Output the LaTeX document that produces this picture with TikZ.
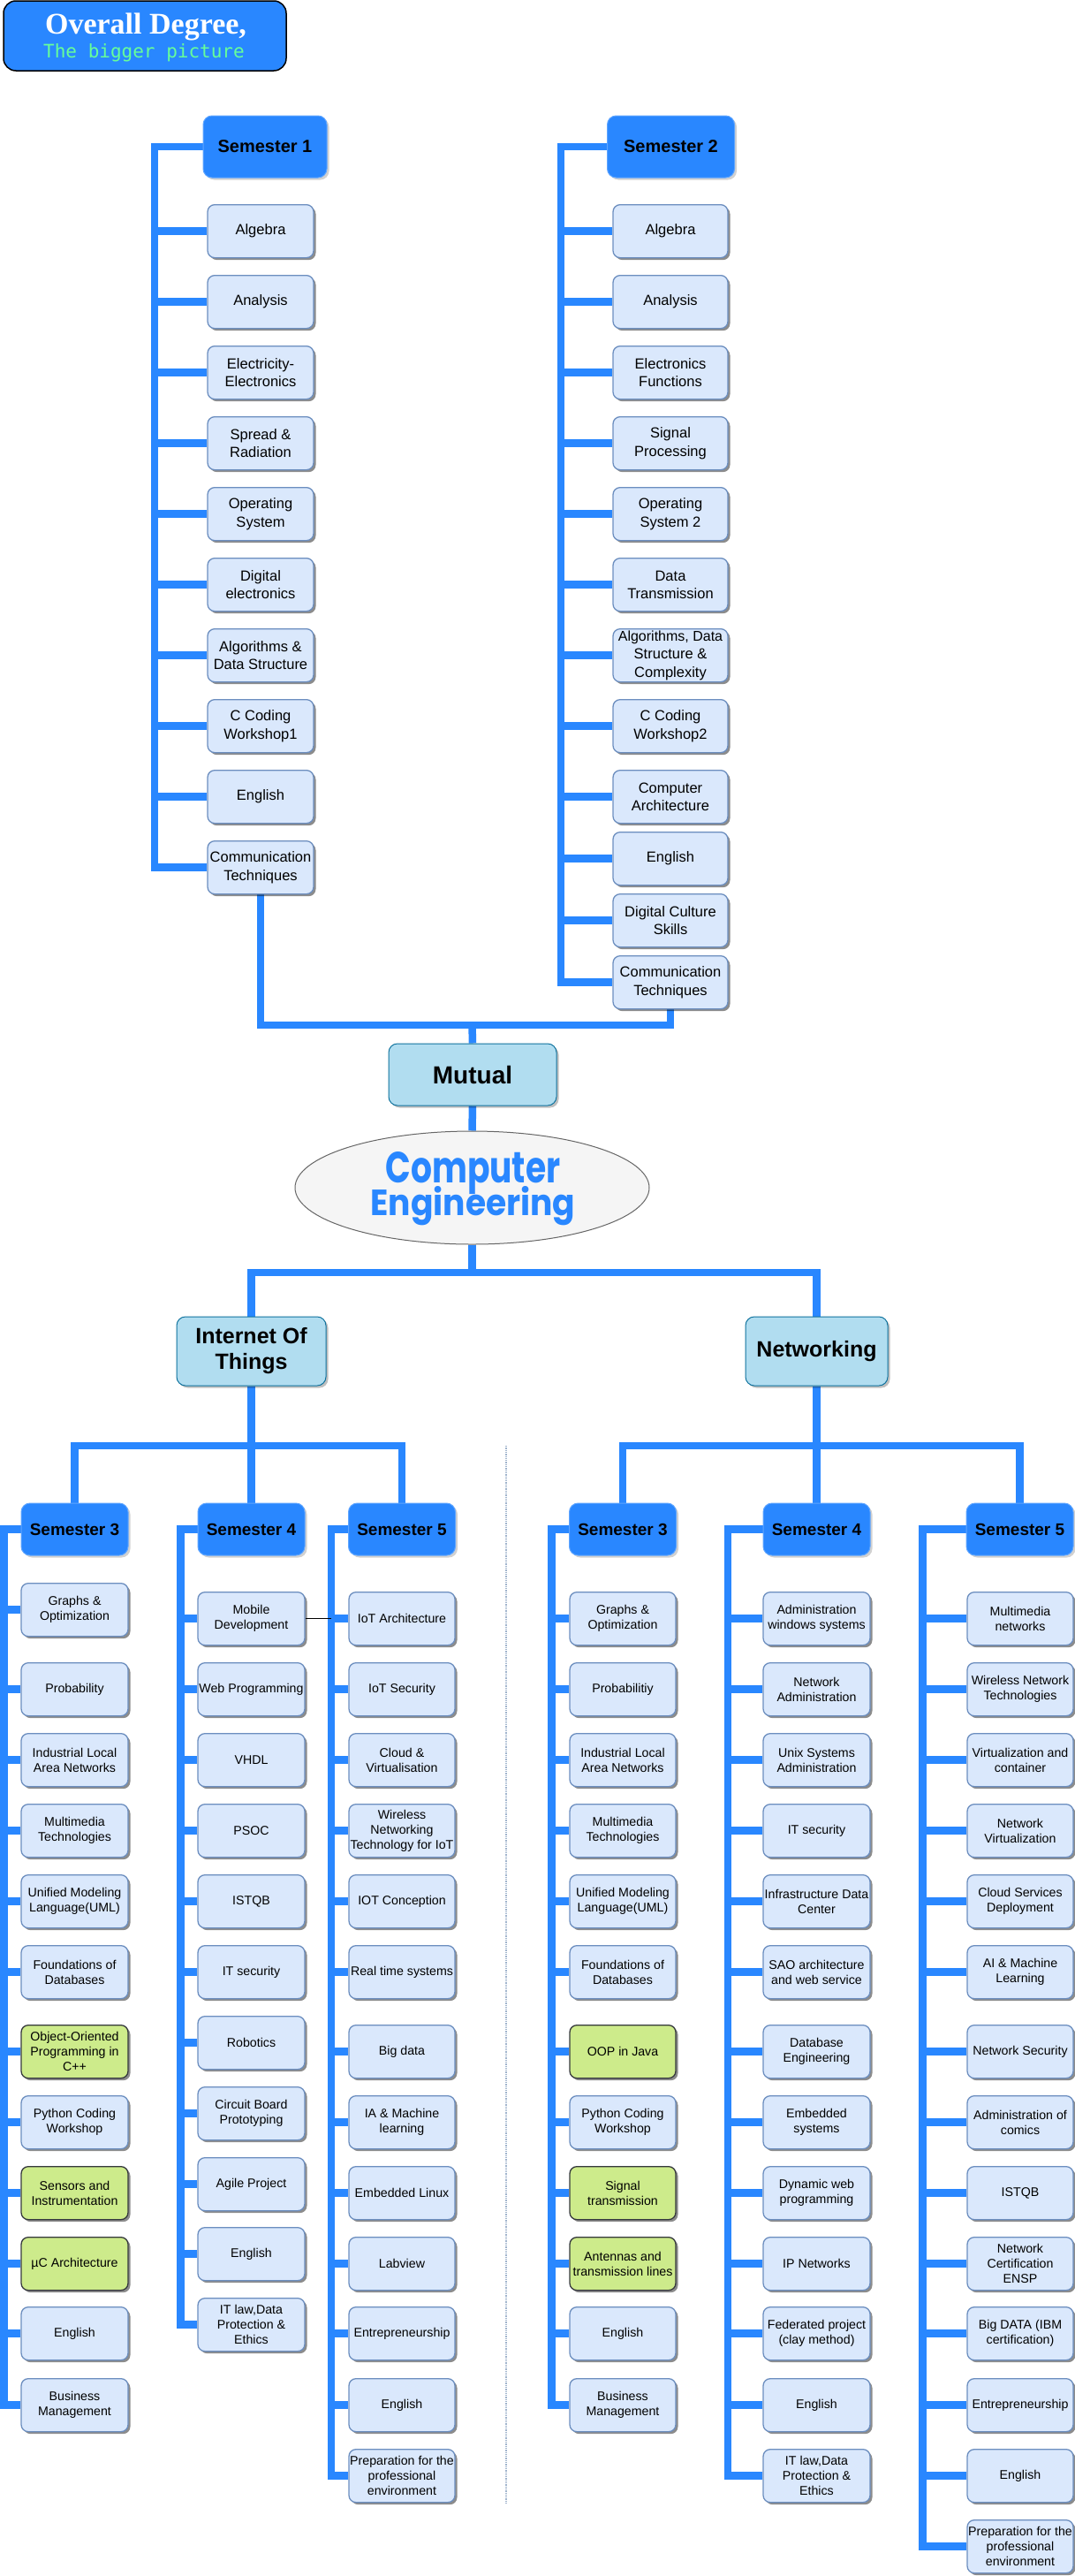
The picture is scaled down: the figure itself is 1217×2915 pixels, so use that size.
\documentclass[tikz,border=0pt]{standalone}
\usepackage{fontspec}
\usepackage{graphicx}
\setmainfont{Liberation Sans}
\newfontfamily\serifbf{Liberation Serif}
\newfontfamily\monof{DejaVu Sans Mono}
\newfontfamily\popf{Poppins}
\usetikzlibrary{shadows,shapes.geometric}
\definecolor{cblue}{HTML}{2987FF}
\definecolor{crsfill}{HTML}{DAE8FC}
\definecolor{crsdraw}{HTML}{6C8EBF}
\definecolor{grnfill}{HTML}{CDEB8B}
\definecolor{grndraw}{HTML}{36393D}
\definecolor{mutfill}{HTML}{B1DDF0}
\definecolor{mutdraw}{HTML}{10739E}
\definecolor{mint}{HTML}{66FF99}
\definecolor{sepcol}{HTML}{9FB3CC}
\pgfdeclarelayer{bg}
\pgfsetlayers{bg,main}
\newcommand\crsb[5]{\node[#1,anchor=north] (#2) at (#3,#4) {#5};}
\begin{document}
\begin{tikzpicture}[x=1pt,y=-1pt,
  conn/.style={draw=cblue, line width=8.5pt, line join=miter},
  crsbase/.style={rectangle, rounded corners=8pt, line width=1.3pt, inner sep=0pt, align=center,
    minimum height=60pt, drop shadow={shadow xshift=2.5pt,shadow yshift=-2.5pt,fill=black,opacity=0.45}},
  crs/.style={crsbase, fill=crsfill, draw=crsdraw},
  grn/.style={crsbase, fill=grnfill, draw=grndraw},
  upper/.style={font=\fontsize{16.5}{20.3}\selectfont},
  lower/.style={font=\fontsize{14.2}{17.2}\selectfont},
  wa/.style={minimum width=120pt},
  wb/.style={minimum width=121pt},
  wc/.style={minimum width=130pt},
  hdr/.style={rectangle, rounded corners=10pt, fill=cblue, draw=cblue!75!white, line width=1pt,
    inner sep=0pt, align=center, drop shadow={shadow xshift=2.5pt,shadow yshift=-2.5pt,fill=black,opacity=0.18}},
  hdrA/.style={hdr, minimum height=70pt, font=\fontsize{20}{24}\selectfont\bfseries},
  hdrB/.style={hdr, minimum width=121pt, minimum height=59pt, font=\fontsize{19}{23}\selectfont\bfseries},
  mut/.style={rectangle, rounded corners=10pt, fill=mutfill, draw=mutdraw, line width=1pt, inner sep=0pt,
    align=center, drop shadow={shadow xshift=2.5pt,shadow yshift=-2.5pt,fill=black,opacity=0.25}},
  titlebox/.style={rectangle, rounded corners=14pt, fill=cblue, draw=black, line width=1.5pt}
]
\useasboundingbox (0,0) rectangle (1217,2915);

% title
\node[titlebox, minimum width=320pt, minimum height=79pt] (title) at (164,40.5) {};
\node[anchor=base, inner sep=0pt, text=white] (tt1) at (165,38) {\fontsize{34}{34}\serifbf\bfseries Overall Degree,};
\node[anchor=base, inner sep=0pt, text=mint] (tt2) at (163,65) {\fontsize{21}{21}\monof The bigger picture};

% semester 1 and 2
\node[hdrA, minimum width=140pt] (s1) at (300,166) {Semester 1};
\node[hdrA, minimum width=144pt] (s2) at (759.5,166) {Semester 2};

\crsb{crs,upper,wa}{s1n1}{295}{231}{Algebra}
\crsb{crs,upper,wa}{s1n2}{295}{311}{Analysis}
\crsb{crs,upper,wa}{s1n3}{295}{391}{Electricity-\\Electronics}
\crsb{crs,upper,wa}{s1n4}{295}{471}{Spread \&\\Radiation}
\crsb{crs,upper,wa}{s1n5}{295}{551}{Operating\\System}
\crsb{crs,upper,wa}{s1n6}{295}{631}{Digital\\electronics}
\crsb{crs,upper,wa}{s1n7}{295}{711}{Algorithms \&\\Data Structure}
\crsb{crs,upper,wa}{s1n8}{295}{791}{C Coding\\Workshop1}
\crsb{crs,upper,wa}{s1n9}{295}{871}{English}
\crsb{crs,upper,wa}{s1n10}{295}{951}{Communication\\Techniques}

\crsb{crs,upper,wc}{s2n1}{759}{231}{Algebra}
\crsb{crs,upper,wc}{s2n2}{759}{311}{Analysis}
\crsb{crs,upper,wc}{s2n3}{759}{391}{Electronics\\Functions}
\crsb{crs,upper,wc}{s2n4}{759}{471}{Signal\\Processing}
\crsb{crs,upper,wc}{s2n5}{759}{551}{Operating\\System 2}
\crsb{crs,upper,wc}{s2n6}{759}{631}{Data\\Transmission}
\crsb{crs,upper,wc}{s2n7}{759}{711}{\fontsize{16}{18.8}\selectfont Algorithms, Data\\Structure \&\\Complexity}
\crsb{crs,upper,wc}{s2n8}{759}{791}{C Coding\\Workshop2}
\crsb{crs,upper,wc}{s2n9}{759}{871}{Computer\\Architecture}
\crsb{crs,upper,wc}{s2n10}{759}{941}{English}
\crsb{crs,upper,wc}{s2n11}{759}{1011}{Digital Culture\\Skills}
\crsb{crs,upper,wc}{s2n12}{759}{1081}{Communication\\Techniques}

% mutual & CE
\node[mut, minimum width=190pt, minimum height=70pt, font=\fontsize{28}{32}\selectfont\bfseries] (mut) at (535,1216) {Mutual};
\node[ellipse, draw=black!60, fill=black!4, line width=1pt, minimum width=401pt, minimum height=128pt, inner sep=0pt] (ce) at (534.5,1344) {};
\node[anchor=base, inner sep=0pt, text=cblue] (ce1) at (535.5,1338) {\resizebox{198pt}{35pt}{\popf\bfseries Computer}};
\node[anchor=base, inner sep=0pt, text=cblue] (ce2) at (535.5,1375) {\resizebox{232pt}{33pt}{\popf\bfseries Engineering}};

\node[mut, minimum width=169pt, minimum height=78pt, font=\fontsize{25}{29}\selectfont\bfseries] (iot) at (284.5,1529) {Internet Of\\Things};
\node[mut, minimum width=161pt, minimum height=78pt, font=\fontsize{25}{29}\selectfont\bfseries] (net) at (924.5,1529) {Networking};

% IoT semesters
\node[hdrB] (i3) at (84.5,1730.5) {Semester 3};
\node[hdrB] (i4) at (284.5,1730.5) {Semester 4};
\node[hdrB] (i5) at (455,1730.5) {Semester 5};

\crsb{crs,lower,wb}{i3n1}{84.5}{1791}{Graphs \&\\Optimization}
\crsb{crs,lower,wb}{i3n2}{84.5}{1881}{Probability}
\crsb{crs,lower,wb}{i3n3}{84.5}{1961}{Industrial Local\\Area Networks}
\crsb{crs,lower,wb}{i3n4}{84.5}{2041}{Multimedia\\Technologies}
\crsb{crs,lower,wb}{i3n5}{84.5}{2121}{Unified Modeling\\Language(UML)}
\crsb{crs,lower,wb}{i3n6}{84.5}{2201}{Foundations of\\Databases}
\crsb{grn,lower,wb}{i3n7}{84.5}{2291}{Object-Oriented\\Programming in\\C++}
\crsb{crs,lower,wb}{i3n8}{84.5}{2371}{Python Coding\\Workshop}
\crsb{grn,lower,wb}{i3n9}{84.5}{2451}{Sensors and\\Instrumentation}
\crsb{grn,lower,wb}{i3n10}{84.5}{2531}{µC Architecture}
\crsb{crs,lower,wb}{i3n11}{84.5}{2610}{English}
\crsb{crs,lower,wb}{i3n12}{84.5}{2691}{Business\\Management}

\crsb{crs,lower,wb}{i4n1}{284.5}{1801}{Mobile\\Development}
\crsb{crs,lower,wb}{i4n2}{284.5}{1881}{Web Programming}
\crsb{crs,lower,wb}{i4n3}{284.5}{1961}{VHDL}
\crsb{crs,lower,wb}{i4n4}{284.5}{2041}{PSOC}
\crsb{crs,lower,wb}{i4n5}{284.5}{2121}{ISTQB}
\crsb{crs,lower,wb}{i4n6}{284.5}{2201}{IT security}
\crsb{crs,lower,wb}{i4n7}{284.5}{2281}{Robotics}
\crsb{crs,lower,wb}{i4n8}{284.5}{2361}{Circuit Board\\Prototyping}
\crsb{crs,lower,wb}{i4n9}{284.5}{2441}{Agile Project}
\crsb{crs,lower,wb}{i4n10}{284.5}{2520}{English}
\crsb{crs,lower,wb}{i4n11}{284.5}{2600}{IT law,Data\\Protection \&\\Ethics}

\crsb{crs,lower,wa}{i5n1}{455}{1801}{IoT Architecture}
\crsb{crs,lower,wa}{i5n2}{455}{1881}{IoT Security}
\crsb{crs,lower,wa}{i5n3}{455}{1961}{Cloud \&\\Virtualisation}
\crsb{crs,lower,wa}{i5n4}{455}{2041}{Wireless\\Networking\\Technology for IoT}
\crsb{crs,lower,wa}{i5n5}{455}{2121}{IOT Conception}
\crsb{crs,lower,wa}{i5n6}{455}{2201}{Real time systems}
\crsb{crs,lower,wa}{i5n7}{455}{2291}{Big data}
\crsb{crs,lower,wa}{i5n8}{455}{2371}{IA \& Machine\\learning}
\crsb{crs,lower,wa}{i5n9}{455}{2451}{Embedded Linux}
\crsb{crs,lower,wa}{i5n10}{455}{2531}{Labview}
\crsb{crs,lower,wa}{i5n11}{455}{2610}{Entrepreneurship}
\crsb{crs,lower,wa}{i5n12}{455}{2691}{English}
\crsb{crs,lower,wa}{i5n13}{455}{2771}{Preparation for the\\professional\\environment}

% Networking semesters
\node[hdrB] (n3) at (705,1730.5) {Semester 3};
\node[hdrB] (n4) at (924.5,1730.5) {Semester 4};
\node[hdrB] (n5) at (1154.5,1730.5) {Semester 5};

\crsb{crs,lower,wa}{n3n1}{705}{1801}{Graphs \&\\Optimization}
\crsb{crs,lower,wa}{n3n2}{705}{1881}{Probabilitiy}
\crsb{crs,lower,wa}{n3n3}{705}{1961}{Industrial Local\\Area Networks}
\crsb{crs,lower,wa}{n3n4}{705}{2041}{Multimedia\\Technologies}
\crsb{crs,lower,wa}{n3n5}{705}{2121}{Unified Modeling\\Language(UML)}
\crsb{crs,lower,wa}{n3n6}{705}{2201}{Foundations of\\Databases}
\crsb{grn,lower,wa}{n3n7}{705}{2291}{OOP in Java}
\crsb{crs,lower,wa}{n3n8}{705}{2371}{Python Coding\\Workshop}
\crsb{grn,lower,wa}{n3n9}{705}{2451}{Signal\\transmission}
\crsb{grn,lower,wa}{n3n10}{705}{2531}{Antennas and\\transmission lines}
\crsb{crs,lower,wa}{n3n11}{705}{2610}{English}
\crsb{crs,lower,wa}{n3n12}{705}{2691}{Business\\Management}

\crsb{crs,lower,wb}{n4n1}{924.5}{1801}{Administration\\windows systems}
\crsb{crs,lower,wb}{n4n2}{924.5}{1881}{Network\\Administration}
\crsb{crs,lower,wb}{n4n3}{924.5}{1961}{Unix Systems\\Administration}
\crsb{crs,lower,wb}{n4n4}{924.5}{2041}{IT security}
\crsb{crs,lower,wb}{n4n5}{924.5}{2121}{Infrastructure Data\\Center}
\crsb{crs,lower,wb}{n4n6}{924.5}{2201}{SAO architecture\\and web service}
\crsb{crs,lower,wb}{n4n7}{924.5}{2291}{Database\\Engineering}
\crsb{crs,lower,wb}{n4n8}{924.5}{2371}{Embedded\\systems}
\crsb{crs,lower,wb}{n4n9}{924.5}{2451}{Dynamic web\\programming}
\crsb{crs,lower,wb}{n4n10}{924.5}{2531}{IP Networks}
\crsb{crs,lower,wb}{n4n11}{924.5}{2610}{Federated project\\(clay method)}
\crsb{crs,lower,wb}{n4n12}{924.5}{2691}{English}
\crsb{crs,lower,wb}{n4n13}{924.5}{2771}{IT law,Data\\Protection \&\\Ethics}

\crsb{crs,lower,wa}{n5n1}{1155}{1801}{Multimedia\\networks}
\crsb{crs,lower,wa}{n5n2}{1155}{1881}{Wireless Network\\Technologies}
\crsb{crs,lower,wa}{n5n3}{1155}{1961}{Virtualization and\\container}
\crsb{crs,lower,wa}{n5n4}{1155}{2041}{Network\\Virtualization}
\crsb{crs,lower,wa}{n5n5}{1155}{2121}{Cloud Services\\Deployment}
\crsb{crs,lower,wa}{n5n6}{1155}{2201}{AI \& Machine\\Learning}
\crsb{crs,lower,wa}{n5n7}{1155}{2291}{Network Security}
\crsb{crs,lower,wa}{n5n8}{1155}{2371}{Administration of\\comics}
\crsb{crs,lower,wa}{n5n9}{1155}{2451}{ISTQB}
\crsb{crs,lower,wa}{n5n10}{1155}{2531}{Network\\Certification\\ENSP}
\crsb{crs,lower,wa}{n5n11}{1155}{2610}{Big DATA (IBM\\certification)}
\crsb{crs,lower,wa}{n5n12}{1155}{2691}{Entrepreneurship}
\crsb{crs,lower,wa}{n5n13}{1155}{2771}{English}
\crsb{crs,lower,wa}{n5n14}{1155}{2851}{Preparation for the\\professional\\environment}

% trunk coordinates
\coordinate (t1) at (175,166);
\coordinate (t2) at (635,166);
\coordinate (ti3) at (4.5,1730.5);
\coordinate (ti4) at (204.5,1730.5);
\coordinate (ti5) at (375,1730.5);
\coordinate (tn3) at (624.5,1730.5);
\coordinate (tn4) at (824,1730.5);
\coordinate (tn5) at (1044.5,1730.5);
\coordinate (mb) at (534.5,1160);
\coordinate (eb) at (534.5,1440);
\coordinate (ib) at (284.5,1636);
\coordinate (nb) at (924.5,1636);
\coordinate (sepA) at (573,1636);
\coordinate (sepB) at (573,2833);

\begin{pgfonlayer}{bg}
  \fill[white] (0,0) rectangle (1217,2915);
  \draw[conn] (s1.west) -- (t1) |- (s1n10.west);
  \foreach \i in {1,...,9} \draw[conn] (t1 |- s1n\i.west) -- (s1n\i.west);
  \draw[conn] (s2.west) -- (t2) |- (s2n12.west);
  \foreach \i in {1,...,11} \draw[conn] (t2 |- s2n\i.west) -- (s2n\i.west);

  \draw[conn] (s1n10.south) |- (mb) -| (s2n12.south);
  \draw[conn] (mb) -- (mut.north);
  \draw[conn] (mut.south) -- (ce.north);
  \draw[conn] (ce.south) -- (eb);
  \draw[conn] (iot.north) |- (eb) -| (net.north);

  \draw[conn] (iot.south) -- (ib);
  \draw[conn] (i3.north) |- (ib) -| (i5.north);
  \draw[conn] (ib) -- (i4.north);
  \draw[conn] (net.south) -- (nb);
  \draw[conn] (n3.north) |- (nb) -| (n5.north);
  \draw[conn] (nb) -- (n4.north);

  \draw[conn] (i3.west) -- (ti3) |- (i3n12.west);
  \foreach \i in {1,...,11} \draw[conn] (ti3 |- i3n\i.west) -- (i3n\i.west);
  \draw[conn] (i4.west) -- (ti4) |- (i4n11.west);
  \foreach \i in {1,...,10} \draw[conn] (ti4 |- i4n\i.west) -- (i4n\i.west);
  \draw[conn] (i5.west) -- (ti5) |- (i5n13.west);
  \foreach \i in {1,...,12} \draw[conn] (ti5 |- i5n\i.west) -- (i5n\i.west);

  \draw[conn] (n3.west) -- (tn3) |- (n3n12.west);
  \foreach \i in {1,...,11} \draw[conn] (tn3 |- n3n\i.west) -- (n3n\i.west);
  \draw[conn] (n4.west) -- (tn4) |- (n4n13.west);
  \foreach \i in {1,...,12} \draw[conn] (tn4 |- n4n\i.west) -- (n4n\i.west);
  \draw[conn] (n5.west) -- (tn5) |- (n5n14.west);
  \foreach \i in {1,...,13} \draw[conn] (tn5 |- n5n\i.west) -- (n5n\i.west);

  \draw[black, line width=1pt] (i4n1.east) -- (ti5 |- i4n1.east);
  \draw[sepcol, densely dotted, line width=1.3pt] (sepA) -- (sepB);
\end{pgfonlayer}
\end{tikzpicture}
\end{document}
